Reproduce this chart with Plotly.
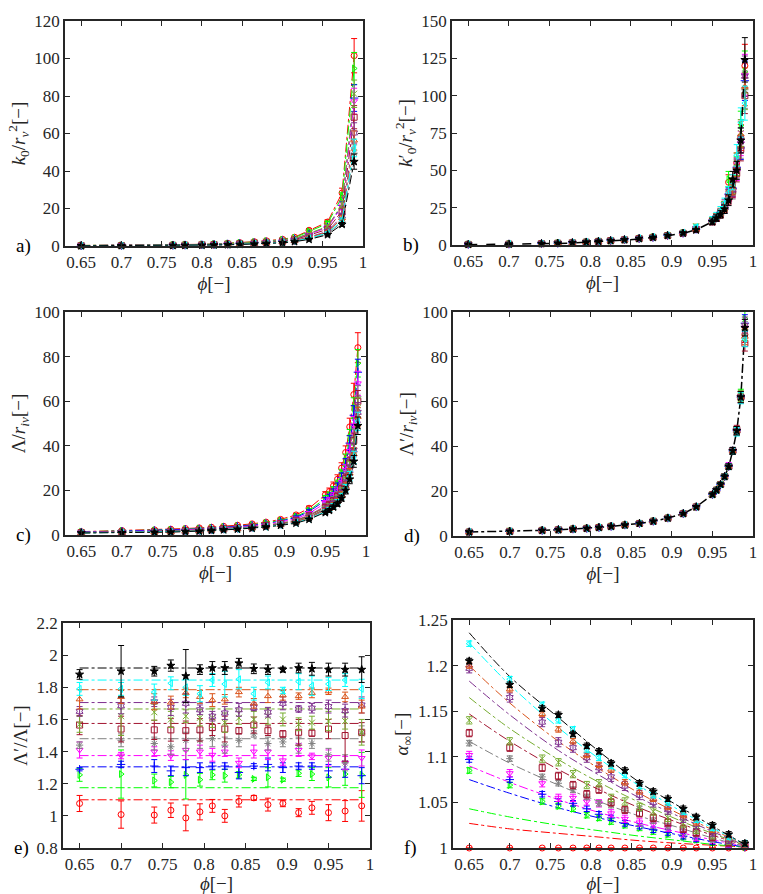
import plotly.graph_objects as go

# Series order: red, green, blue, magenta, gray, dark red, olive, purple, orange, cyan, black
COLORS = ['#ff0000', '#00ff00', '#0000ff', '#ff00ff', '#808080', '#a2142f',
          '#77ac30', '#7e2f8e', '#d95319', '#00ffff', '#000000']
SYMBOLS = ['circle-open', 'triangle-right-open', 'cross-thin-open', 'triangle-down-open',
           'asterisk-open', 'square-open', 'x-thin-open', 'hexagram-open',
           'triangle-up-open', 'triangle-left-open', 'star']

PHI_TICKS = [0.65, 0.7, 0.75, 0.8, 0.85, 0.9, 0.95, 1.0]
PHI_LABELS = ['0.65', '0.7', '0.75', '0.8', '0.85', '0.9', '0.95', '1']

# ---- panel a: k0 / rv^2 ----
PHI_A = [0.65, 0.70, 0.764, 0.779, 0.80, 0.815, 0.832, 0.847, 0.865, 0.88, 0.90, 0.915,
         0.933, 0.956, 0.974, 0.989]
K0 = [
    [0.3, 0.4, 0.6, 0.7, 0.9, 1.1, 1.4, 1.8, 2.3, 2.8, 3.6, 4.7, 8.4, 12.8, 28.3, 101.5],
    [0.28, 0.37, 0.56, 0.65, 0.84, 1.03, 1.31, 1.68, 2.14, 2.62, 3.37, 4.41, 7.8, 12.0, 26.3, 94.7],
    [0.22, 0.30, 0.46, 0.54, 0.70, 0.86, 1.10, 1.40, 1.78, 2.20, 2.84, 3.74, 6.4, 10.1, 21.6, 78.9],
    [0.21, 0.29, 0.45, 0.53, 0.69, 0.84, 1.08, 1.37, 1.74, 2.16, 2.78, 3.67, 6.3, 9.9, 21.1, 77.2],
    [0.12, 0.17, 0.28, 0.33, 0.44, 0.55, 0.71, 0.88, 1.10, 1.42, 1.85, 2.49, 3.9, 6.5, 12.8, 49.5],
    [0.18, 0.26, 0.40, 0.47, 0.61, 0.75, 0.97, 1.22, 1.55, 1.93, 2.50, 3.31, 5.6, 8.9, 18.6, 68.7],
    [0.23, 0.31, 0.47, 0.56, 0.72, 0.88, 1.13, 1.44, 1.83, 2.26, 2.92, 3.84, 6.6, 10.4, 22.3, 81.2],
    [0.15, 0.22, 0.34, 0.41, 0.54, 0.66, 0.85, 1.07, 1.35, 1.71, 2.21, 2.95, 4.8, 7.8, 16.0, 60.3],
    [0.14, 0.20, 0.32, 0.38, 0.50, 0.62, 0.80, 1.00, 1.26, 1.60, 2.08, 2.78, 4.5, 7.4, 14.9, 56.3],
    [0.13, 0.18, 0.30, 0.35, 0.47, 0.58, 0.75, 0.93, 1.17, 1.50, 1.95, 2.61, 4.1, 6.9, 13.7, 52.3],
    [0.10, 0.15, 0.25, 0.30, 0.40, 0.50, 0.65, 0.80, 1.00, 1.30, 1.70, 2.30, 3.5, 6.0, 11.5, 45.0],
]
K0_ERR_PCT = 9

# ---- panels b, c, d share the porosity grid ----
PHI = [0.65, 0.70, 0.74, 0.76, 0.778, 0.795, 0.81, 0.825, 0.842, 0.86, 0.877, 0.895, 0.914,
       0.93, 0.95, 0.955, 0.96, 0.965, 0.97, 0.975, 0.98, 0.985, 0.99]

K0P = [
    [0.4, 0.6, 0.9, 1.2, 1.5, 1.9, 2.4, 2.9, 3.5, 4.3, 5.1, 6.3, 7.9, 10.5, 16.0, 18.5, 21.0, 26.0, 42.0, 37.0, 55.0, 72.0, 120.0],
    [0.4, 0.6, 0.9, 1.2, 1.5, 1.9, 2.4, 2.9, 3.5, 4.3, 5.2, 6.4, 8.0, 11.0, 16.5, 18.5, 21.0, 26.0, 44.0, 40.0, 53.0, 80.0, 116.0],
    [0.4, 0.6, 0.9, 1.2, 1.5, 1.9, 2.4, 2.9, 3.5, 4.3, 5.1, 6.3, 7.9, 10.5, 16.0, 18.0, 21.0, 24.0, 34.0, 38.0, 52.0, 65.0, 110.0],
    [0.4, 0.6, 0.9, 1.2, 1.5, 1.9, 2.4, 2.9, 3.5, 4.3, 5.1, 6.3, 7.9, 10.5, 16.0, 18.5, 21.5, 25.0, 32.0, 36.0, 49.0, 68.0, 114.0],
    [0.4, 0.6, 0.9, 1.2, 1.5, 1.9, 2.4, 2.9, 3.5, 4.3, 5.1, 6.3, 7.9, 10.5, 15.5, 18.0, 21.0, 24.0, 33.0, 35.0, 50.0, 66.0, 104.0],
    [0.4, 0.6, 0.9, 1.2, 1.5, 1.9, 2.4, 2.9, 3.5, 4.3, 5.1, 6.3, 7.9, 10.5, 15.5, 18.0, 20.5, 25.0, 31.0, 36.0, 48.0, 64.0, 100.0],
    [0.4, 0.6, 0.9, 1.2, 1.5, 1.9, 2.4, 2.9, 3.5, 4.3, 5.2, 6.4, 8.0, 12.5, 16.5, 19.0, 22.0, 26.0, 35.0, 39.0, 55.0, 75.0, 103.0],
    [0.4, 0.6, 0.9, 1.2, 1.5, 1.9, 2.4, 2.9, 3.5, 4.3, 5.1, 6.3, 7.9, 11.0, 16.0, 18.5, 21.5, 27.0, 33.0, 37.0, 51.0, 70.0, 113.0],
    [0.4, 0.6, 0.9, 1.2, 1.5, 1.9, 2.4, 2.9, 3.5, 4.3, 5.1, 6.3, 7.9, 10.5, 16.0, 18.5, 21.0, 25.0, 32.0, 38.0, 52.0, 74.0, 106.0],
    [0.5, 0.7, 1.0, 1.3, 1.6, 2.0, 2.5, 3.0, 3.6, 4.5, 5.3, 6.5, 8.2, 12.0, 17.0, 19.5, 23.0, 28.0, 35.0, 42.0, 60.0, 82.0, 95.0],
    [0.4, 0.6, 0.9, 1.2, 1.5, 1.9, 2.4, 2.9, 3.5, 4.3, 5.1, 6.3, 7.9, 10.0, 15.5, 18.0, 20.5, 24.0, 30.0, 44.0, 50.0, 70.0, 124.0],
]
K0P_FIT = [0.2, 0.4, 0.7, 1.0, 1.3, 1.7, 2.1, 2.6, 3.3, 4.0, 5.0, 6.2, 7.8, 10.2, 15.5, 17.8,
           20.8, 24.5, 30.0, 38.0, 50.0, 72.0, 120.0]
K0P_ERR_PCT = 12

LAM = [
    [1.5, 2.0, 2.3, 2.6, 2.9, 3.2, 3.5, 3.9, 4.4, 5.0, 5.8, 7.0, 9.0, 12.0, 18.0, 19.5, 22.0, 25.0, 30.0, 37.0, 48.5, 63.0, 84.0],
    [1.4, 1.8, 2.1, 2.3, 2.6, 2.9, 3.2, 3.6, 4.0, 4.6, 5.4, 6.5, 8.3, 11.0, 16.4, 17.8, 20.1, 22.8, 27.3, 33.6, 43.8, 57.0, 77.0],
    [1.3, 1.7, 2.0, 2.2, 2.5, 2.7, 3.0, 3.4, 3.8, 4.4, 5.1, 6.2, 7.9, 10.5, 15.5, 16.9, 19.1, 21.6, 25.8, 31.7, 41.2, 53.7, 73.0],
    [1.2, 1.5, 1.8, 2.0, 2.3, 2.5, 2.8, 3.2, 3.6, 4.1, 4.8, 5.8, 7.3, 9.7, 14.3, 15.6, 17.6, 19.9, 23.8, 29.2, 37.7, 49.2, 68.0],
    [1.1, 1.4, 1.6, 1.8, 2.0, 2.3, 2.6, 2.9, 3.3, 3.7, 4.4, 5.3, 6.7, 8.9, 13.0, 14.1, 16.0, 18.1, 21.5, 26.3, 33.7, 44.1, 62.0],
    [1.1, 1.3, 1.5, 1.7, 1.9, 2.2, 2.5, 2.8, 3.2, 3.6, 4.3, 5.1, 6.4, 8.6, 12.5, 13.6, 15.4, 17.4, 20.7, 25.3, 32.3, 42.3, 60.0],
    [1.0, 1.2, 1.5, 1.6, 1.8, 2.0, 2.3, 2.7, 3.0, 3.5, 4.1, 4.9, 6.2, 8.2, 11.8, 13.0, 14.7, 16.5, 19.6, 23.9, 30.4, 39.9, 57.0],
    [1.0, 1.2, 1.4, 1.5, 1.7, 1.9, 2.2, 2.6, 2.9, 3.3, 4.0, 4.8, 5.9, 7.9, 11.4, 12.4, 14.1, 15.9, 18.8, 22.9, 29.0, 38.1, 55.0],
    [1.0, 1.1, 1.3, 1.4, 1.7, 1.9, 2.2, 2.5, 2.8, 3.2, 3.8, 4.6, 5.7, 7.6, 10.9, 11.9, 13.5, 15.2, 18.0, 21.9, 27.6, 36.3, 53.0],
    [0.9, 1.1, 1.3, 1.4, 1.6, 1.8, 2.1, 2.4, 2.7, 3.1, 3.7, 4.5, 5.5, 7.3, 10.5, 11.5, 13.1, 14.7, 17.3, 21.0, 26.4, 34.8, 51.0],
    [0.9, 1.0, 1.2, 1.3, 1.5, 1.7, 2.0, 2.3, 2.6, 3.0, 3.6, 4.3, 5.3, 7.0, 10.0, 11.0, 12.5, 14.0, 16.5, 20.0, 25.0, 33.0, 49.0],
]
LAM_ERR_PCT = 8

LAMP = [
    [1.8, 2.1, 2.5, 2.8, 3.1, 3.4, 3.8, 4.3, 4.9, 5.6, 6.6, 8.0, 10.0, 13.0, 18.5, 20.5, 23.0, 26.5, 31.0, 38.0, 47.0, 62.0, 90.0],
    [1.8, 2.1, 2.5, 2.8, 3.1, 3.4, 3.8, 4.3, 4.9, 5.6, 6.6, 8.0, 10.0, 13.0, 18.5, 20.5, 23.0, 26.5, 31.0, 38.0, 47.0, 63.0, 97.0],
    [1.8, 2.1, 2.5, 2.8, 3.1, 3.4, 3.8, 4.3, 4.9, 5.6, 6.6, 8.0, 10.0, 13.0, 18.5, 20.5, 23.0, 26.5, 31.0, 38.0, 47.0, 62.0, 95.0],
    [1.8, 2.1, 2.5, 2.8, 3.1, 3.4, 3.8, 4.3, 4.9, 5.6, 6.6, 8.0, 10.0, 13.0, 18.5, 20.5, 23.0, 26.5, 31.5, 38.0, 47.0, 62.0, 93.0],
    [1.8, 2.1, 2.5, 2.8, 3.1, 3.4, 3.8, 4.3, 4.9, 5.6, 6.6, 8.0, 10.0, 13.0, 18.5, 20.5, 23.0, 26.5, 31.0, 38.0, 47.0, 62.0, 92.0],
    [1.8, 2.1, 2.5, 2.8, 3.1, 3.4, 3.8, 4.3, 4.9, 5.6, 6.6, 8.0, 10.0, 13.0, 18.5, 20.5, 23.0, 26.5, 31.0, 38.0, 47.5, 62.0, 86.0],
    [1.8, 2.1, 2.5, 2.8, 3.1, 3.4, 3.8, 4.3, 4.9, 5.6, 6.6, 8.0, 10.0, 13.0, 18.5, 20.5, 23.0, 26.5, 31.0, 38.0, 47.0, 62.5, 91.0],
    [1.8, 2.1, 2.5, 2.8, 3.1, 3.4, 3.8, 4.3, 4.9, 5.6, 6.6, 8.0, 10.0, 13.0, 18.5, 20.5, 23.0, 26.5, 31.0, 38.0, 47.0, 62.0, 94.0],
    [1.8, 2.1, 2.5, 2.8, 3.1, 3.4, 3.8, 4.3, 4.9, 5.6, 6.6, 8.0, 10.0, 13.0, 18.5, 20.5, 23.0, 26.5, 31.0, 38.0, 47.0, 62.0, 89.0],
    [1.8, 2.1, 2.5, 2.8, 3.1, 3.4, 3.8, 4.3, 4.9, 5.6, 6.6, 8.0, 10.0, 13.0, 18.5, 20.5, 23.0, 26.5, 31.0, 38.0, 46.5, 61.5, 88.0],
    [1.8, 2.1, 2.5, 2.8, 3.1, 3.4, 3.8, 4.3, 4.9, 5.6, 6.6, 8.0, 10.0, 13.0, 18.5, 20.5, 23.0, 26.5, 31.0, 38.0, 47.0, 62.0, 93.0],
]
LAMP_FIT = [1.8, 2.1, 2.5, 2.8, 3.1, 3.4, 3.8, 4.3, 4.9, 5.6, 6.6, 8.0, 10.0, 13.0, 18.5,
            20.5, 23.0, 26.5, 31.0, 38.0, 47.0, 62.0, 93.0]
LAMP_ERR_PCT = 4

# ---- panels e, f ----
PHI_EF = [0.65, 0.70, 0.74, 0.76, 0.778, 0.795, 0.81, 0.825, 0.842, 0.86, 0.877, 0.895,
          0.914, 0.93, 0.95, 0.97, 0.99]

RATIO = [
    [1.077, 1.008, 1.005, 1.035, 0.987, 1.025, 1.062, 1.0, 1.09, 1.112, 1.07, 1.077, 1.02, 1.05, 1.02, 1.03, 1.062],
    [1.255, 1.26, 1.22, 1.21, 1.255, 1.225, 1.255, 1.25, 1.255, 1.23, 1.24, 1.225, 1.265, 1.26, 1.24, 1.26, 1.255],
    [1.29, 1.32, 1.31, 1.28, 1.30, 1.30, 1.31, 1.31, 1.27, 1.31, 1.32, 1.30, 1.31, 1.31, 1.28, 1.29, 1.25],
    [1.41, 1.375, 1.40, 1.375, 1.41, 1.40, 1.38, 1.40, 1.33, 1.40, 1.40, 1.345, 1.41, 1.37, 1.36, 1.33, 1.36],
    [1.44, 1.47, 1.45, 1.43, 1.47, 1.47, 1.48, 1.44, 1.47, 1.51, 1.45, 1.46, 1.44, 1.45, 1.38, 1.33, 1.51],
    [1.565, 1.54, 1.535, 1.535, 1.53, 1.535, 1.55, 1.54, 1.53, 1.565, 1.53, 1.51, 1.52, 1.515, 1.54, 1.50, 1.52],
    [1.57, 1.62, 1.645, 1.60, 1.62, 1.61, 1.61, 1.58, 1.61, 1.60, 1.62, 1.60, 1.57, 1.58, 1.59, 1.59, 1.52],
    [1.65, 1.685, 1.71, 1.675, 1.70, 1.66, 1.62, 1.64, 1.66, 1.675, 1.645, 1.70, 1.665, 1.67, 1.68, 1.655, 1.69],
    [1.725, 1.74, 1.71, 1.705, 1.765, 1.74, 1.72, 1.725, 1.77, 1.70, 1.745, 1.75, 1.745, 1.765, 1.775, 1.74, 1.68],
    [1.79, 1.79, 1.77, 1.825, 1.80, 1.76, 1.845, 1.82, 1.85, 1.76, 1.83, 1.78, 1.835, 1.81, 1.82, 1.845, 1.79],
    [1.88, 1.90, 1.90, 1.935, 1.87, 1.91, 1.92, 1.92, 1.95, 1.915, 1.91, 1.91, 1.92, 1.915, 1.91, 1.91, 1.91],
]
RATIO_ERR = [
    [0.05, 0.085, 0.05, 0.045, 0.08, 0.05, 0.04, 0.04, 0.035, 0.015, 0.04, 0.02, 0.025, 0.04, 0.05, 0.065, 0.095],
    [0.04, 0.15, 0.04, 0.035, 0.15, 0.04, 0.03, 0.04, 0.02, 0.01, 0.06, 0.01, 0.02, 0.04, 0.06, 0.07, 0.14],
    [0.01, 0.02, 0.04, 0.03, 0.05, 0.03, 0.02, 0.02, 0.04, 0.015, 0.04, 0.03, 0.02, 0.02, 0.04, 0.05, 0.05],
    [0.05, 0.02, 0.03, 0.03, 0.06, 0.04, 0.04, 0.03, 0.03, 0.04, 0.05, 0.03, 0.04, 0.02, 0.05, 0.04, 0.05],
    [0.02, 0.04, 0.04, 0.05, 0.05, 0.05, 0.05, 0.05, 0.04, 0.02, 0.04, 0.03, 0.05, 0.03, 0.04, 0.05, 0.05],
    [0.06, 0.08, 0.06, 0.07, 0.06, 0.07, 0.05, 0.08, 0.02, 0.05, 0.03, 0.02, 0.08, 0.02, 0.06, 0.16, 0.06],
    [0.05, 0.12, 0.05, 0.05, 0.04, 0.05, 0.06, 0.06, 0.04, 0.05, 0.05, 0.04, 0.04, 0.04, 0.06, 0.05, 0.08],
    [0.03, 0.05, 0.03, 0.05, 0.06, 0.03, 0.03, 0.04, 0.04, 0.02, 0.03, 0.04, 0.02, 0.03, 0.04, 0.04, 0.05],
    [0.06, 0.04, 0.05, 0.04, 0.03, 0.04, 0.04, 0.03, 0.03, 0.03, 0.04, 0.03, 0.02, 0.03, 0.02, 0.03, 0.04],
    [0.04, 0.04, 0.05, 0.04, 0.05, 0.05, 0.04, 0.08, 0.06, 0.04, 0.04, 0.02, 0.05, 0.06, 0.04, 0.04, 0.06],
    [0.03, 0.16, 0.03, 0.035, 0.165, 0.03, 0.04, 0.04, 0.03, 0.03, 0.03, 0.015, 0.03, 0.04, 0.04, 0.04, 0.08],
]
RATIO_FIT = [1.10, 1.175, 1.305, 1.375, 1.48, 1.575, 1.665, 1.705, 1.785, 1.845, 1.92]
RATIO_FIT_PHI = [0.65, 0.99]

ALPHA = [
    [1.0] * 17,
    [1.085, 1.069, 1.051, 1.046, 1.043, 1.036, 1.033, 1.029, 1.025, 1.022, 1.018, 1.015, 1.012, 1.009, 1.006, 1.003, 1.001],
    [1.097, 1.075, 1.059, 1.051, 1.049, 1.043, 1.037, 1.033, 1.027, 1.024, 1.020, 1.017, 1.013, 1.010, 1.007, 1.004, 1.001],
    [1.102, 1.082, 1.071, 1.055, 1.055, 1.051, 1.049, 1.038, 1.032, 1.028, 1.026, 1.022, 1.016, 1.012, 1.009, 1.005, 1.002],
    [1.115, 1.098, 1.078, 1.071, 1.064, 1.056, 1.049, 1.047, 1.041, 1.043, 1.030, 1.024, 1.020, 1.016, 1.010, 1.006, 1.002],
    [1.126, 1.110, 1.088, 1.079, 1.069, 1.059, 1.064, 1.050, 1.042, 1.038, 1.033, 1.028, 1.021, 1.017, 1.012, 1.006, 1.002],
    [1.140, 1.117, 1.098, 1.094, 1.081, 1.069, 1.071, 1.055, 1.051, 1.045, 1.040, 1.033, 1.027, 1.020, 1.014, 1.008, 1.003],
    [1.197, 1.165, 1.138, 1.116, 1.110, 1.099, 1.088, 1.078, 1.068, 1.058, 1.050, 1.042, 1.033, 1.026, 1.018, 1.010, 1.003],
    [1.200, 1.174, 1.147, 1.130, 1.117, 1.102, 1.091, 1.086, 1.072, 1.062, 1.054, 1.045, 1.036, 1.028, 1.020, 1.011, 1.004],
    [1.224, 1.185, 1.157, 1.140, 1.130, 1.108, 1.099, 1.090, 1.080, 1.068, 1.058, 1.050, 1.040, 1.031, 1.022, 1.012, 1.005],
    [1.205, 1.179, 1.153, 1.146, 1.125, 1.112, 1.106, 1.093, 1.085, 1.071, 1.062, 1.054, 1.043, 1.034, 1.025, 1.015, 1.005],
]
ALPHA_ERR = [0.0, 0.003, 0.003, 0.004, 0.003, 0.004, 0.004, 0.005, 0.003, 0.003, 0.003]
ALPHA_FIT_PHI = [0.65, 0.70, 0.76, 0.81, 0.86, 0.91, 0.95, 0.99]
ALPHA_FIT = [
    [1.027, 1.021, 1.016, 1.012, 1.008, 1.005, 1.003, 1.001],
    [1.043, 1.034, 1.025, 1.019, 1.013, 1.008, 1.004, 1.001],
    [1.075, 1.060, 1.044, 1.033, 1.023, 1.014, 1.007, 1.001],
    [1.090, 1.072, 1.053, 1.039, 1.027, 1.017, 1.009, 1.002],
    [1.117, 1.093, 1.069, 1.051, 1.035, 1.022, 1.011, 1.002],
    [1.147, 1.117, 1.086, 1.064, 1.044, 1.027, 1.014, 1.003],
    [1.165, 1.131, 1.097, 1.072, 1.050, 1.030, 1.016, 1.003],
    [1.183, 1.146, 1.107, 1.080, 1.055, 1.034, 1.018, 1.003],
    [1.200, 1.159, 1.117, 1.087, 1.060, 1.037, 1.020, 1.004],
    [1.225, 1.179, 1.132, 1.098, 1.068, 1.041, 1.022, 1.004],
    [1.236, 1.188, 1.143, 1.106, 1.072, 1.045, 1.024, 1.004],
]

FONT = '"Liberation Serif", "Times New Roman", serif'
INK = '#262626'
W, H = 763, 894


def add_points(fig, ax, x, rows, err, err_type, connect):
    """Add one marker trace per series, optionally joined by dash-dot lines."""
    for i, y in enumerate(rows):
        if err_type == 'data':
            bars = dict(type='data', array=err[i])
        elif err_type == 'constant':
            bars = dict(type='constant', value=err[i])
        else:
            bars = dict(type='percent', value=err)
        bars.update(color=COLORS[i], thickness=1, width=3)
        fig.add_trace(go.Scatter(
            x=x, y=y, xaxis='x' + ax, yaxis='y' + ax,
            mode='lines+markers' if connect else 'markers',
            line=dict(color=COLORS[i], width=1, dash='dashdot'),
            marker=dict(symbol=SYMBOLS[i], color=COLORS[i], size=6,
                        line=dict(color=COLORS[i], width=1)),
            error_y=bars, cliponaxis=False, showlegend=False))


def add_fit(fig, ax, x, y, color, dash, width=1.2, shape='linear'):
    """Add a fitted curve as a plain line trace."""
    fig.add_trace(go.Scatter(
        x=x, y=y, xaxis='x' + ax, yaxis='y' + ax, mode='lines',
        line=dict(color=color, width=width, dash=dash, shape=shape),
        showlegend=False))


fig = go.Figure()

add_points(fig, '', PHI_A, K0, K0_ERR_PCT, 'percent', True)
add_points(fig, '2', PHI, K0P, K0P_ERR_PCT, 'percent', False)
add_fit(fig, '2', PHI, K0P_FIT, '#000000', 'dash', 1.5)
add_points(fig, '3', PHI, LAM, LAM_ERR_PCT, 'percent', True)
add_fit(fig, '4', PHI, LAMP_FIT, '#000000', 'dashdot', 1.5)
add_points(fig, '4', PHI, LAMP, LAMP_ERR_PCT, 'percent', False)
for i, level in enumerate(RATIO_FIT):
    add_fit(fig, '5', RATIO_FIT_PHI, [level, level], COLORS[i], 'dashdot', 1)
add_points(fig, '5', PHI_EF, RATIO, RATIO_ERR, 'data', False)
for i, curve in enumerate(ALPHA_FIT):
    add_fit(fig, '6', ALPHA_FIT_PHI, curve, COLORS[i], 'dashdot', 1, 'spline')
add_points(fig, '6', PHI_EF, ALPHA, ALPHA_ERR, 'constant', False)

# panel boxes in pixels: (left, right, top, bottom)
boxes = [(65, 363, 21, 246), (452, 753, 21, 245), (65, 366, 312, 535),
         (453, 753, 312, 536), (63, 370, 623, 848), (453, 753, 620, 848)]
y_axes = [
    ('<i>k</i><sub>0</sub>/<i>r</i><sub><i>v</i></sub><sup>2</sup>[−]', [0, 120],
     [0, 20, 40, 60, 80, 100, 120], None),
    ('<i>k</i>′<sub>0</sub>/<i>r</i><sub><i>v</i></sub><sup>2</sup>[−]', [0, 150],
     [0, 25, 50, 75, 100, 125, 150], None),
    ('Λ/<i>r</i><sub><i>iv</i></sub>[−]', [0, 100], [0, 20, 40, 60, 80, 100], None),
    ('Λ′/<i>r</i><sub><i>iv</i></sub>[−]', [0, 100], [0, 20, 40, 60, 80, 100], None),
    ('Λ′/Λ[−]', [0.8, 2.2], [0.8, 1.0, 1.2, 1.4, 1.6, 1.8, 2.0, 2.2],
     ['0.8', '1', '1.2', '1.4', '1.6', '1.8', '2', '2.2']),
    ('<i>α</i><sub>∞</sub>[−]', [1.0, 1.25], [1.0, 1.05, 1.1, 1.15, 1.2, 1.25],
     ['1', '1.05', '1.1', '1.15', '1.2', '1.25']),
]
panel_labels = ['a)', 'b)', 'c)', 'd)', 'e)', 'f)']

axis_common = dict(showline=True, mirror='ticks', linecolor=INK, linewidth=1.5,
                   ticks='inside', ticklen=5, tickcolor=INK, tickwidth=1,
                   showgrid=False, zeroline=False, automargin=False,
                   tickfont=dict(family=FONT, size=17, color=INK))
layout = {}
annotations = []
for k, (box, yspec) in enumerate(zip(boxes, y_axes)):
    left, right, top, bottom = box
    suffix = '' if k == 0 else str(k + 1)
    layout['xaxis' + suffix] = dict(
        axis_common, domain=[left / W, right / W], range=[0.63, 1.0],
        anchor='y' + suffix, tickvals=PHI_TICKS, ticktext=PHI_LABELS,
        title=dict(text='<i>ϕ</i>[−]', font=dict(family=FONT, size=19, color=INK),
                   standoff=6))
    title, yrange, yticks, ylabels = yspec
    layout['yaxis' + suffix] = dict(
        axis_common, domain=[1 - bottom / H, 1 - top / H], range=yrange,
        anchor='x' + suffix, tickvals=yticks,
        ticktext=ylabels if ylabels else [str(v) for v in yticks],
        title=dict(text=title, font=dict(family=FONT, size=19, color=INK), standoff=4))
    annotations.append(dict(
        text=panel_labels[k], x=(left - 51) / W, y=1 - bottom / H,
        xref='paper', yref='paper', xanchor='left', yanchor='middle',
        showarrow=False, font=dict(family=FONT, size=19, color='#000000')))

fig.update_layout(**layout)
fig.update_layout(
    width=W, height=H, margin=dict(l=0, r=0, t=0, b=0),
    paper_bgcolor='white', plot_bgcolor='white', annotations=annotations)

fig.write_html("out.html", config={'displayModeBar': False},
               post_script="document.body.style.margin = '0';")
